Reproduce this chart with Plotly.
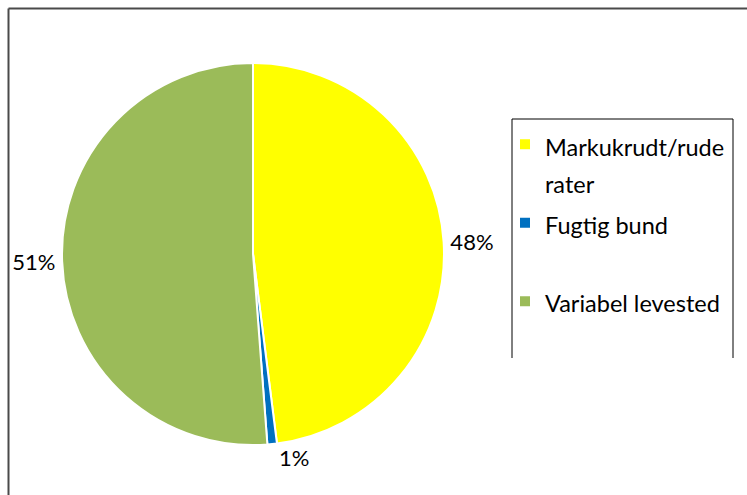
import plotly.graph_objects as go

# ---- data ----
categories = ["Markukrudt/ruderater", "Fugtig bund", "Variabel levested"]
values = [48.0, 0.8, 51.2]
colors = ["#FFFF00", "#0070C0", "#9BBB59"]

W, H = 747, 495


def px(x):
    return x / W


def py(y):
    return 1 - y / H


def legend_label(name):
    # wrap long names like the original legend
    if len(name) > 17:
        name = name[:15] + "<br>" + name[15:]
    else:
        name = name + "<br> "
    return '<span style="font-size:23.5px">' + name + "</span>"


labels = [legend_label(c) for c in categories]

cx, cy, r = 253, 254, 191

fig = go.Figure(
    go.Pie(
        labels=labels,
        values=values,
        sort=False,
        direction="clockwise",
        rotation=0,
        marker=dict(colors=colors, line=dict(color="white", width=2)),
        textinfo="percent",
        texttemplate="%{percent:.0%}",
        textposition="outside",
        outsidetextfont=dict(family="Lato, Carlito, Calibri, sans-serif", size=22, color="#000000"),
        domain=dict(x=[px(cx - r), px(cx + r)], y=[py(cy + r), py(cy - r)]),
        hovertemplate="%{label}: %{percent}<extra></extra>",
    )
)

line_col = "#4a4a4a"
shapes = [
    # outer chart frame (top and left edges visible)
    dict(type="line", xref="paper", yref="paper", x0=px(8.5), x1=1.01, y0=py(8.5), y1=py(8.5),
         line=dict(color=line_col, width=2)),
    dict(type="line", xref="paper", yref="paper", x0=px(8.5), x1=px(8.5), y0=py(8.5), y1=-0.01,
         line=dict(color=line_col, width=2)),
    # legend box (clipped at the bottom)
    dict(type="line", xref="paper", yref="paper", x0=px(512), x1=px(733), y0=py(119), y1=py(119),
         line=dict(color="#000000", width=1)),
    dict(type="line", xref="paper", yref="paper", x0=px(512), x1=px(512), y0=py(119), y1=py(358),
         line=dict(color="#000000", width=1)),
    dict(type="line", xref="paper", yref="paper", x0=px(733), x1=px(733), y0=py(119), y1=py(358),
         line=dict(color="#000000", width=1)),
]

fig.update_layout(
    width=W,
    height=H,
    margin=dict(l=0, r=0, t=0, b=0),
    paper_bgcolor="white",
    plot_bgcolor="white",
    showlegend=True,
    legend=dict(
        x=px(505),
        y=py(119),
        xanchor="left",
        yanchor="top",
        font=dict(family="Lato, Carlito, Calibri, sans-serif", size=29, color="#000000"),
        valign="top",
        bgcolor="rgba(0,0,0,0)",
        borderwidth=0,
        traceorder="normal",
    ),
    shapes=shapes,
)

fig.write_html("out.html")
